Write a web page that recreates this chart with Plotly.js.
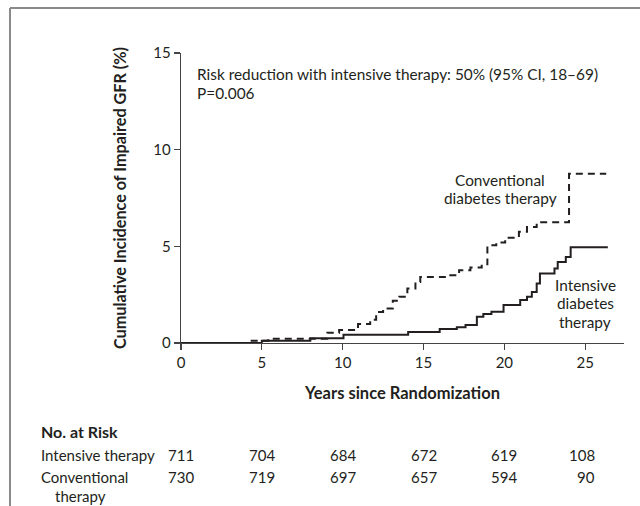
<!DOCTYPE html>
<html>
<head>
<meta charset="utf-8">
<script src="https://cdn.plot.ly/plotly-3.0.1.min.js"></script>
<style>
  html, body { margin: 0; padding: 0; background: #fff; }
  #chart { width: 640px; height: 506px; }
</style>
</head>
<body>
<div id="chart"></div>
<script>
// Kaplan-Meier style cumulative incidence (step points, % impaired GFR)
const intensiveYears = [0, 5.0, 8.0, 10.05, 14.05, 16.0, 17.06, 17.6, 18.3, 18.7, 19.2, 19.95, 20.98, 21.4, 21.7, 22.0, 22.2, 23.1, 23.3, 23.8, 24.1, 26.4];
const intensiveIncidence = [0, 0.12, 0.24, 0.43, 0.57, 0.72, 0.81, 0.93, 1.36, 1.5, 1.61, 1.96, 2.22, 2.39, 2.64, 3.08, 3.59, 3.85, 4.19, 4.45, 4.95, 4.95];

const conventionalYears = [0, 4.2, 5.4, 9.05, 9.78, 10.95, 11.7, 12.07, 12.5, 13.1, 13.5, 14.0, 14.5, 14.8, 16.4, 17.2, 17.9, 18.6, 18.95, 19.5, 20.05, 20.9, 21.4, 22.0, 24.0, 26.3];
const conventionalIncidence = [0, 0.12, 0.22, 0.53, 0.67, 0.98, 1.2, 1.6, 1.78, 2.18, 2.39, 2.82, 3.16, 3.42, 3.5, 3.76, 3.9, 4.07, 5.05, 5.2, 5.45, 5.75, 6.0, 6.25, 8.75, 8.75];

// Number at risk table
const riskYears = [0, 5, 10, 15, 20, 25];
const riskIntensive = [711, 704, 684, 672, 619, 108];
const riskConventional = [730, 719, 697, 657, 594, 90];

const xTicks = [0, 5, 10, 15, 20, 25];
const yTicks = [0, 5, 10, 15];

const FONT = 'Lato, "Open Sans", sans-serif';
const INK = '#231f20';
const TXT = 15.4;

// geometry (pixels) used to place paper-referenced items
const L = 181, R = 624, T = 53, B = 343;
const px2paperX = p => (p - L) / (R - L);
const px2paperY = p => (B - p) / (B - T);

const traces = [
  {
    x: conventionalYears, y: conventionalIncidence,
    type: 'scatter', mode: 'lines', line: {shape: 'hv', color: INK, width: 2, dash: '7px,5px'},
    hoverinfo: 'skip', showlegend: false, cliponaxis: false
  },
  {
    x: intensiveYears, y: intensiveIncidence,
    type: 'scatter', mode: 'lines', line: {shape: 'hv', color: INK, width: 2},
    hoverinfo: 'skip', showlegend: false, cliponaxis: false
  }
];

const annotations = [
  {x: 0.87, y: 13.9, xref: 'x', yref: 'y', xanchor: 'left', yanchor: 'middle', showarrow: false,
   text: 'Risk reduction with intensive therapy: 50% (95% CI, 18–69)', font: {family: FONT, size: TXT, color: INK}},
  {x: 0.87, y: 12.92, xref: 'x', yref: 'y', xanchor: 'left', yanchor: 'middle', showarrow: false,
   text: 'P=0.006', font: {family: FONT, size: TXT, color: INK}},
  {x: 19.74, y: 8.43, xref: 'x', yref: 'y', xanchor: 'center', yanchor: 'middle', showarrow: false,
   text: 'Conventional', font: {family: FONT, size: TXT, color: INK}},
  {x: 19.74, y: 7.49, xref: 'x', yref: 'y', xanchor: 'center', yanchor: 'middle', showarrow: false,
   text: 'diabetes therapy', font: {family: FONT, size: TXT, color: INK}},
  {x: 25.0, y: 3.0, xref: 'x', yref: 'y', xanchor: 'center', yanchor: 'middle', showarrow: false,
   text: 'Intensive', font: {family: FONT, size: TXT, color: INK}},
  {x: 25.0, y: 2.05, xref: 'x', yref: 'y', xanchor: 'center', yanchor: 'middle', showarrow: false,
   text: 'diabetes', font: {family: FONT, size: TXT, color: INK}},
  {x: 25.0, y: 1.1, xref: 'x', yref: 'y', xanchor: 'center', yanchor: 'middle', showarrow: false,
   text: 'therapy', font: {family: FONT, size: TXT, color: INK}},
  // risk table labels
  {x: px2paperX(39), y: px2paperY(431), xref: 'paper', yref: 'paper', xanchor: 'left', yanchor: 'middle', showarrow: false,
   text: '<b>No. at Risk</b>', font: {family: FONT, size: 16, color: INK}},
  {x: px2paperX(39), y: px2paperY(455), xref: 'paper', yref: 'paper', xanchor: 'left', yanchor: 'middle', showarrow: false,
   text: 'Intensive therapy', font: {family: FONT, size: 15, color: INK}},
  {x: px2paperX(39), y: px2paperY(477), xref: 'paper', yref: 'paper', xanchor: 'left', yanchor: 'middle', showarrow: false,
   text: 'Conventional', font: {family: FONT, size: 15, color: INK}},
  {x: px2paperX(53), y: px2paperY(496), xref: 'paper', yref: 'paper', xanchor: 'left', yanchor: 'middle', showarrow: false,
   text: 'therapy', font: {family: FONT, size: 15, color: INK}}
];

riskYears.forEach((yr, i) => {
  const last = i === riskYears.length - 1;
  [[riskIntensive[i], 455], [riskConventional[i], 477]].forEach(([v, py]) => {
    annotations.push({
      x: yr, y: px2paperY(py), xref: 'x', yref: 'paper',
      xanchor: last ? 'right' : 'center', xshift: last ? 12 : 0,
      yanchor: 'middle', showarrow: false, text: String(v),
      font: {family: FONT, size: 15, color: INK}
    });
  });
});

const frameX = px2paperX(10), frameY = px2paperY(8);
const shapes = [
  {type: 'line', xref: 'paper', yref: 'paper', x0: frameX, x1: 1.2, y0: frameY, y1: frameY,
   line: {color: '#8a8a8a', width: 2}},
  {type: 'line', xref: 'paper', yref: 'paper', x0: frameX, x1: frameX, y0: frameY, y1: -0.7,
   line: {color: '#8a8a8a', width: 2}}
];

const layout = {
  width: 640, height: 506,
  margin: {l: L, r: 640 - R, t: T, b: 506 - B, pad: 0},
  paper_bgcolor: '#fff', plot_bgcolor: '#fff',
  font: {family: FONT, size: 15, color: INK},
  showlegend: false,
  xaxis: {
    range: [0, 27.4], tickvals: xTicks, ticktext: xTicks.map(String),
    showgrid: false, zeroline: false, showline: true, linecolor: '#444', linewidth: 1.3,
    ticks: 'outside', ticklen: 6, tickcolor: '#444', tickwidth: 1.3,
    tickfont: {family: FONT, size: 15, color: INK},
    title: {text: '<b>Years since Randomization</b>', font: {family: FONT, size: 16.5, color: INK}, standoff: 17},
    fixedrange: true
  },
  yaxis: {
    range: [0, 15], tickvals: yTicks, ticktext: yTicks.map(String),
    showgrid: false, zeroline: false, showline: true, linecolor: '#444', linewidth: 1.3,
    ticks: 'outside', ticklen: 6, tickcolor: '#444', tickwidth: 1.3,
    tickfont: {family: FONT, size: 15, color: INK},
    title: {text: '<b>Cumulative Incidence of Impaired GFR (%)</b>', font: {family: FONT, size: 16.2, color: INK}, standoff: 22},
    fixedrange: true
  },
  annotations: annotations,
  shapes: shapes
};

Plotly.newPlot('chart', traces, layout, {staticPlot: true, displayModeBar: false});
</script>
</body>
</html>
